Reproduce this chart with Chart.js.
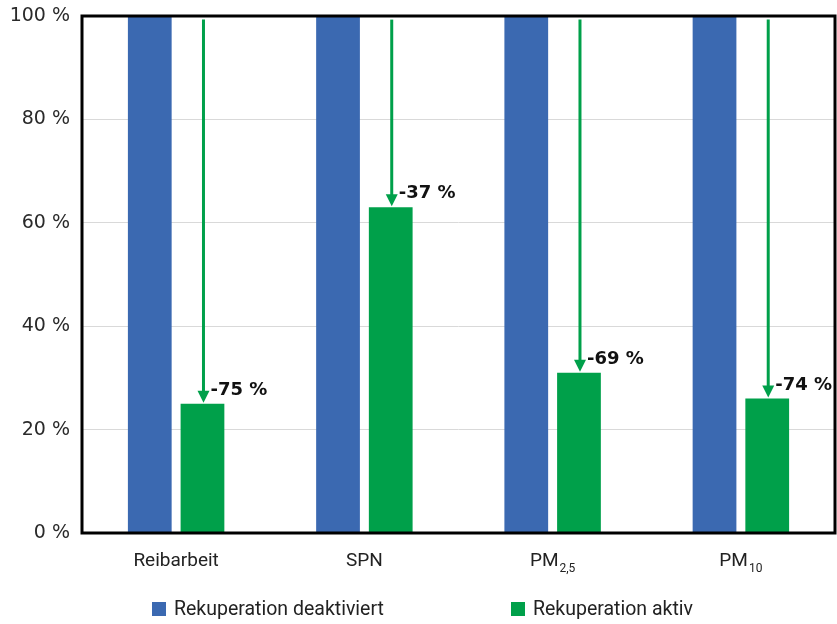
<!DOCTYPE html>
<html>
<head>
<meta charset="utf-8">
<script src="https://cdn.jsdelivr.net/npm/chart.js@4"></script>
<style>
  html, body { margin: 0; padding: 0; background: #fff; }
  #wrap { width: 837px; height: 624px; }
</style>
</head>
<body>
<div id="wrap"><canvas id="chart" width="837" height="624"></canvas></div>
<script>
// Kategorien und Werte (in %)
const categories = ['Reibarbeit', 'SPN', 'PM', 'PM'];
const categorySubs = ['', '', '2,5', '10'];
const deaktiviert = [100, 100, 100, 100];
const aktiv = [25, 63, 31, 26];
const yTicks = [0, 20, 40, 60, 80, 100];

const BLUE = '#3b69b1';
const GREEN = '#00a04a';
const LABEL_FONT = '"Roboto", "Liberation Sans", sans-serif';

// Pfeile mit Prozentangabe der Reduktion
const arrowPlugin = {
  id: 'arrows',
  afterDatasetsDraw(chart) {
    const ctx = chart.ctx;
    const y = chart.scales.y;
    const meta = chart.getDatasetMeta(1);
    ctx.save();
    meta.data.forEach((bar, i) => {
      const x = bar.x + 1;
      const top = y.getPixelForValue(99.3);
      const tip = bar.y - 1;
      const head = 12;
      ctx.strokeStyle = GREEN;
      ctx.fillStyle = GREEN;
      ctx.lineWidth = 3;
      ctx.beginPath();
      ctx.moveTo(x, top);
      ctx.lineTo(x, tip - head + 2);
      ctx.stroke();
      ctx.beginPath();
      ctx.moveTo(x - 6, tip - head);
      ctx.lineTo(x + 6, tip - head);
      ctx.lineTo(x, tip);
      ctx.closePath();
      ctx.fill();

      const change = aktiv[i] - deaktiviert[i];
      ctx.fillStyle = '#111';
      ctx.font = 'bold 18px "DejaVu Sans", sans-serif';
      ctx.textAlign = 'left';
      ctx.textBaseline = 'alphabetic';
      ctx.fillText(change + ' %', x + 7, bar.y - 9);
    });
    ctx.restore();
  }
};

// Rahmen, Achsenbeschriftung mit Tiefstellung und Legende
const framePlugin = {
  id: 'frame',
  afterDraw(chart) {
    const ctx = chart.ctx;
    const a = chart.chartArea;
    const xs = chart.scales.x;
    ctx.save();
    ctx.strokeStyle = '#000';
    ctx.lineWidth = 3;
    ctx.strokeRect(a.left, a.top, a.right - a.left, a.bottom - a.top);

    ctx.fillStyle = '#222';
    ctx.textBaseline = 'middle';
    ctx.textAlign = 'left';
    categories.forEach((c, i) => {
      const cx = xs.getPixelForValue(i);
      ctx.font = '19px ' + LABEL_FONT;
      const w = ctx.measureText(c).width;
      ctx.font = '12px ' + LABEL_FONT;
      const ws = categorySubs[i] ? ctx.measureText(categorySubs[i]).width + 1 : 0;
      const x0 = cx - (w + ws) / 2;
      ctx.font = '19px ' + LABEL_FONT;
      ctx.fillText(c, x0, 561);
      if (categorySubs[i]) {
        ctx.font = '12px ' + LABEL_FONT;
        ctx.fillText(categorySubs[i], x0 + w + 1, 569);
      }
    });

    const items = [
      { text: 'Rekuperation deaktiviert', color: BLUE, x: 152 },
      { text: 'Rekuperation aktiv', color: GREEN, x: 511 }
    ];
    ctx.font = '19.5px ' + LABEL_FONT;
    items.forEach(it => {
      ctx.fillStyle = it.color;
      ctx.fillRect(it.x, 602, 14, 14);
      ctx.fillStyle = '#222';
      ctx.fillText(it.text, it.x + 22, 610);
    });
    ctx.restore();
  }
};

new Chart(document.getElementById('chart'), {
  type: 'bar',
  data: {
    labels: categories.map((c, i) => c + categorySubs[i]),
    datasets: [
      { label: 'Rekuperation deaktiviert', data: deaktiviert, backgroundColor: BLUE },
      { label: 'Rekuperation aktiv', data: aktiv, backgroundColor: GREEN }
    ]
  },
  options: {
    responsive: false,
    animation: false,
    layout: { padding: { top: 16, right: 2, bottom: 50, left: 0 } },
    datasets: { bar: { categoryPercentage: 0.56, barPercentage: 0.83 } },
    plugins: { legend: { display: false }, tooltip: { enabled: false } },
    scales: {
      x: {
        grid: { display: false },
        border: { display: false },
        ticks: { color: 'rgba(0,0,0,0)' },
        afterFit(s) { s.height = 41; s.paddingLeft = 0; s.paddingRight = 0; }
      },
      y: {
        min: 0, max: 100,
        afterBuildTicks(s) { s.ticks = yTicks.map(v => ({ value: v })); },
        grid: { color: '#d9d9d9', drawTicks: false },
        border: { display: false },
        ticks: {
          padding: 12,
          color: '#2a2a2a',
          font: { family: '"DejaVu Sans", sans-serif', size: 19 },
          callback: v => v + ' %'
        },
        afterFit(s) { s.width = 82; s.paddingTop = 0; s.paddingBottom = 0; }
      }
    }
  },
  plugins: [arrowPlugin, framePlugin]
});
</script>
</body>
</html>
